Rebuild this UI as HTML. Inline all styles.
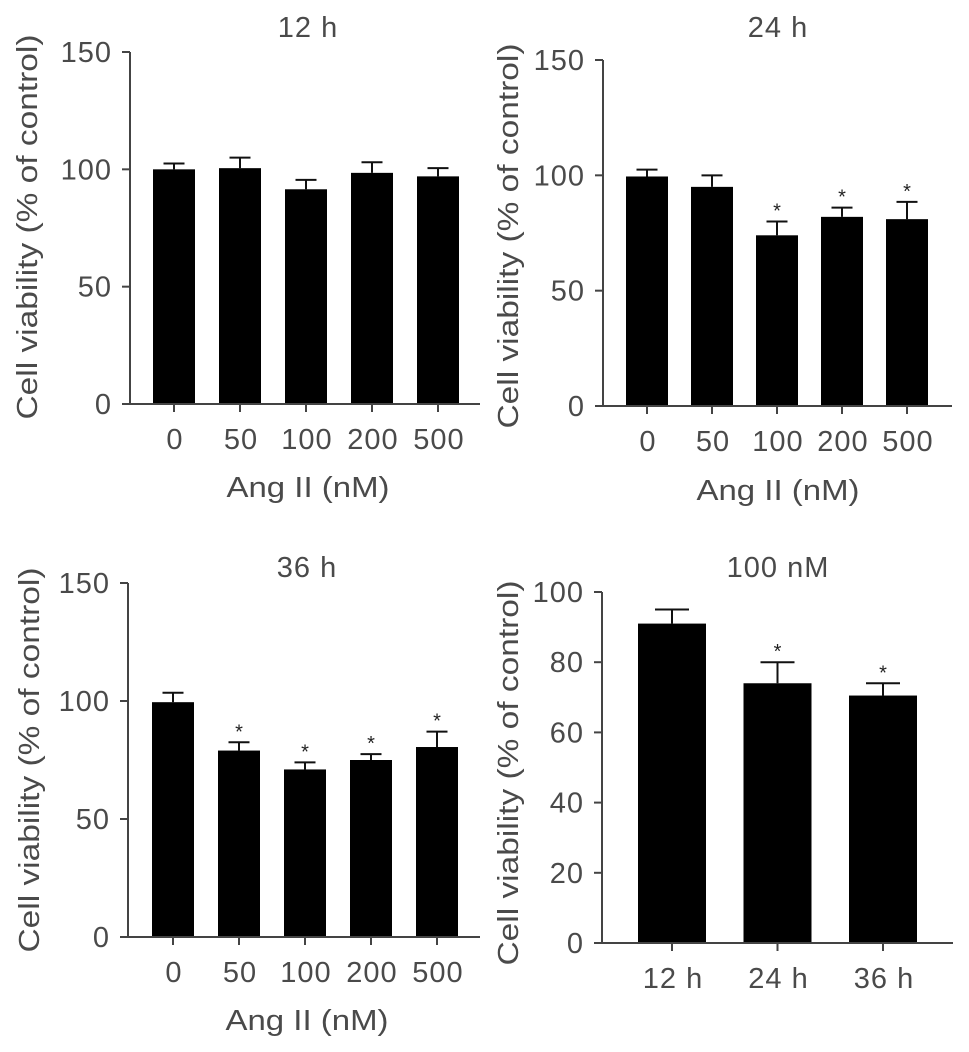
<!DOCTYPE html>
<html><head><meta charset="utf-8">
<style>
html,body{margin:0;padding:0;background:#fff;}
svg{display:block;}
text{font-family:"Liberation Sans",sans-serif;fill:#4a4a4a;}
</style></head>
<body>
<svg id="fig" width="969" height="1052" viewBox="0 0 969 1052" xmlns="http://www.w3.org/2000/svg"></svg>
<script>
// Panel data
const doseCats = ["0","50","100","200","500"];
const timeCats = ["12 h","24 h","36 h"];
const vals12 = [100, 100.5, 91.5, 98.5, 97];
const err12 = [2.5, 4.5, 4, 4.5, 3.5];
const star12 = [false,false,false,false,false];
const vals24 = [99.5, 95, 74, 82, 81];
const err24 = [3, 5, 6, 4, 7.5];
const star24 = [false,false,true,true,true];
const vals36 = [99.5, 79, 71, 75, 80.5];
const err36 = [4, 3.5, 3, 2.5, 6.5];
const star36 = [false,true,true,true,true];
const vals100 = [91, 74, 70.5];
const err100 = [4, 6, 3.5];
const star100 = [false,true,true];
const ticks150 = [0,50,100,150];
const ticks100 = [0,20,40,60,80,100];

const NS="http://www.w3.org/2000/svg";
const svg=document.getElementById('fig');
function mk(tag,attrs,parent){const e=document.createElementNS(NS,tag);for(const k in attrs)e.setAttribute(k,attrs[k]);(parent||svg).appendChild(e);return e;}
const LS='letter-spacing:1px';

function panel(p){
  const g=mk('g',{});
  
  
  const ymax=p.ticks[p.ticks.length-1];
  const y=v=>p.y0-(v/ymax)*(p.y0-p.yTop);
  const x=i=>p.x1+i*p.step;
  const t=mk('text',{x:p.titleX,y:p.titleY,'text-anchor':'middle','font-size':29,style:LS},g);
  t.textContent=p.title;
  
  
  p.vals.forEach((v,i)=>{
    const cx=x(i);
    const top=y(v), et=y(v+p.err[i]);
    const eb=mk('line',{x1:cx,x2:cx,y1:top,y2:et,stroke:'#111','stroke-width':2},g);
    
    
    const cap=mk('line',{x1:cx-p.bw/4,x2:cx+p.bw/4,y1:et,y2:et,stroke:'#111','stroke-width':2},g);
    
    
    const r=mk('rect',{x:cx-p.bw/2,y:top,width:p.bw,height:p.y0-top,fill:'#000'},g);
    
    
    if(p.stars[i]){
      const s=mk('text',{x:cx,y:et-4,'text-anchor':'middle','font-size':20,style:'fill:#222'},g);
      s.textContent='*';
      
      
    }
    const tk=mk('line',{x1:cx,x2:cx,y1:p.y0,y2:p.y0+8,stroke:'#444','stroke-width':2},g);
    
    
    const tl=mk('text',{x:cx+1,y:p.y0+45,'text-anchor':'middle','font-size':29,style:LS},g);
    tl.textContent=p.cats[i];
    
    
  });
  const ya=mk('line',{x1:p.ax,x2:p.ax,y1:p.yTop,y2:p.y0,stroke:'#444','stroke-width':2},g);
  
  
  const xa=mk('line',{x1:p.ax-8,x2:p.xEnd,y1:p.y0,y2:p.y0,stroke:'#444','stroke-width':2},g);
  
  
  p.ticks.forEach(v=>{
    const yy=y(v);
    const tk=mk('line',{x1:p.ax-8,x2:p.ax,y1:yy,y2:yy,stroke:'#444','stroke-width':2},g);
    
    
    const tl=mk('text',{x:p.ax-18,y:yy+10,'text-anchor':'end','font-size':29,style:LS},g);
    tl.textContent=v;
    
    
  });
  const yt=mk('text',{x:0,y:0,'text-anchor':'middle','dominant-baseline':'central','font-size':29,textLength:385,lengthAdjust:'spacingAndGlyphs',transform:`translate(${p.ytX},${p.ytY}) rotate(-90)`},g);
  yt.textContent='Cell viability (% of control)';
  
  
  if(p.xtitle){
    const xt=mk('text',{x:p.titleX,y:p.xtY,'text-anchor':'middle','font-size':29,textLength:163,lengthAdjust:'spacingAndGlyphs'},g);
    xt.textContent=p.xtitle;
    
    
  }
}

panel({name:'panel-12h',title:'12 h',titleX:308,titleY:37,cats:doseCats,vals:vals12,err:err12,stars:star12,ticks:ticks150,
  ax:130,y0:404,yTop:52,x1:174,step:66,bw:42,xEnd:480,ytX:28,ytY:227,xtitle:'Ang II (nM)',xtY:497});
panel({name:'panel-24h',title:'24 h',titleX:778,titleY:37,cats:doseCats,vals:vals24,err:err24,stars:star24,ticks:ticks150,
  ax:603,y0:406,yTop:60,x1:647,step:65,bw:42,xEnd:952,ytX:509,ytY:236,xtitle:'Ang II (nM)',xtY:500});
panel({name:'panel-36h',title:'36 h',titleX:307,titleY:577,cats:doseCats,vals:vals36,err:err36,stars:star36,ticks:ticks150,
  ax:128,y0:937,yTop:583,x1:173,step:66,bw:42,xEnd:480,ytX:30,ytY:760,xtitle:'Ang II (nM)',xtY:1030});
panel({name:'panel-100nM',title:'100 nM',titleX:778,titleY:577,cats:timeCats,vals:vals100,err:err100,stars:star100,ticks:ticks100,
  ax:602,y0:943,yTop:592,x1:672,step:105.5,bw:68,xEnd:953,ytX:509,ytY:773,xtitle:null});
</script>
</body></html>
